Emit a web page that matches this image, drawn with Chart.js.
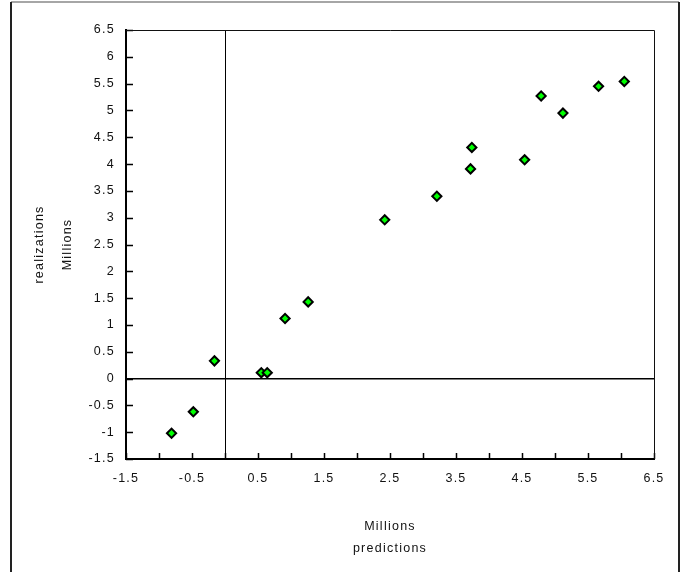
<!DOCTYPE html>
<html>
<head>
<meta charset="utf-8">
<script src="https://cdn.jsdelivr.net/npm/chart.js@4/dist/chart.umd.min.js"></script>
<style>
  html, body { margin: 0; padding: 0; background: #fff; }
  canvas { display: block; }
</style>
</head>
<body>
<canvas id="c" width="685" height="572"></canvas>
<script>
// Data (millions)
const predictions  = [-0.81, -0.48, -0.16, 0.55, 0.64, 0.91, 1.26, 2.42, 3.21, 3.72, 3.74, 4.54, 4.79, 5.12, 5.66, 6.05];
const realizations = [-1.02, -0.62, 0.33, 0.11, 0.11, 1.12, 1.43, 2.96, 3.40, 3.91, 4.31, 4.08, 5.27, 4.95, 5.45, 5.54];
const axisMin = -1.5;
const axisMax = 6.5;
const axisStep = 0.5;
const xTitleLines = ['Millions', 'predictions'];
const yTitleLines = ['realizations', 'Millions'];

const points = predictions.map((x, i) => ({ x: x, y: realizations[i] }));

const FONT = 'Arial, "Liberation Sans", sans-serif';
const TEXT = '#111';
const SPACING = '1.25px';
const FS = 12.5;

const wideText = {
  id: 'wideText',
  beforeLayout(chart) { chart.ctx.letterSpacing = SPACING; },
  beforeDraw(chart) { chart.ctx.letterSpacing = SPACING; }
};

const innerTicks = {
  id: 'innerTicks',
  afterDatasetsDraw(chart) {
    const ctx = chart.ctx;
    const a = chart.chartArea;
    const xs = chart.scales.x, ys = chart.scales.y;
    ctx.save();
    ctx.strokeStyle = '#000';
    ctx.lineWidth = 1.5;
    ctx.beginPath();
    xs.ticks.forEach(t => {
      const px = Math.round(xs.getPixelForValue(t.value)) + 0.5;
      ctx.moveTo(px, a.bottom);
      ctx.lineTo(px, a.bottom - 6);
    });
    ys.ticks.forEach(t => {
      const py = Math.round(ys.getPixelForValue(t.value)) + 0.5;
      ctx.moveTo(a.left, py);
      ctx.lineTo(a.left + 7, py);
    });
    ctx.stroke();
    // top and right frame of the plot area
    ctx.lineWidth = 1;
    ctx.strokeStyle = '#111';
    ctx.beginPath();
    ctx.moveTo(a.left, a.top + 0.5);
    ctx.lineTo(a.right + 0.5, a.top + 0.5);
    ctx.lineTo(a.right + 0.5, a.bottom);
    ctx.stroke();
    ctx.restore();
  }
};

const outerFrame = {
  id: 'outerFrame',
  afterDraw(chart) {
    const ctx = chart.ctx;
    ctx.save();
    ctx.strokeStyle = '#888';
    ctx.lineWidth = 1.5;
    ctx.beginPath();
    ctx.moveTo(11, 2);
    ctx.lineTo(679, 2);
    ctx.stroke();
    ctx.strokeStyle = '#222';
    ctx.lineWidth = 2;
    ctx.beginPath();
    ctx.moveTo(11, 2);
    ctx.lineTo(11, 572);
    ctx.moveTo(679, 2);
    ctx.lineTo(679, 572);
    ctx.stroke();
    ctx.restore();
  }
};

new Chart(document.getElementById('c'), {
  type: 'scatter',
  data: {
    datasets: [{
      data: points,
      pointStyle: 'rectRot',
      pointRadius: 4.6,
      pointHoverRadius: 4.6,
      backgroundColor: '#00ff00',
      borderColor: '#000',
      pointBorderWidth: 2,
      showLine: false
    }]
  },
  plugins: [wideText, innerTicks, outerFrame],
  options: {
    responsive: false,
    animation: false,
    devicePixelRatio: 1,
    layout: { padding: { left: 0, right: 31, top: 30, bottom: 0 } },
    plugins: {
      legend: { display: false },
      tooltip: { enabled: false },
      title: { display: false }
    },
    scales: {
      x: {
        type: 'linear',
        min: axisMin,
        max: axisMax,
        afterFit(scale) { scale.height = 113; },
        border: { display: true, color: '#000', width: 2 },
        grid: {
          drawTicks: false,
          drawOnChartArea: true,
          color: ctx => (ctx.tick && Math.abs(ctx.tick.value) < 1e-9) ? '#000' : 'rgba(0,0,0,0)',
          lineWidth: 1
        },
        ticks: {
          stepSize: axisStep,
          autoSkip: false,
          maxRotation: 0,
          padding: 12,
          color: TEXT,
          font: { family: FONT, size: FS },
          callback: v => (Math.abs(v - Math.round(v)) < 1e-9) ? '' : String(Math.round(v * 10) / 10)
        },
        title: {
          display: true,
          text: xTitleLines,
          color: TEXT,
          font: { family: FONT, size: FS, lineHeight: 1.78 },
          padding: { top: 0, bottom: 12 }
        }
      },
      y: {
        type: 'linear',
        min: axisMin,
        max: axisMax,
        afterFit(scale) { scale.width = 126; },
        border: { display: true, color: '#000', width: 2 },
        grid: {
          drawTicks: false,
          drawOnChartArea: true,
          color: ctx => (ctx.tick && Math.abs(ctx.tick.value) < 1e-9) ? '#000' : 'rgba(0,0,0,0)',
          lineWidth: 1.5
        },
        ticks: {
          stepSize: axisStep,
          autoSkip: false,
          padding: 11,
          color: TEXT,
          font: { family: FONT, size: FS },
          callback: v => String(Math.round(v * 10) / 10)
        },
        title: {
          display: true,
          text: yTitleLines,
          color: TEXT,
          font: { family: FONT, size: FS, lineHeight: 2.24 },
          padding: { top: 26, bottom: 0 }
        }
      }
    }
  }
});
</script>
</body>
</html>
